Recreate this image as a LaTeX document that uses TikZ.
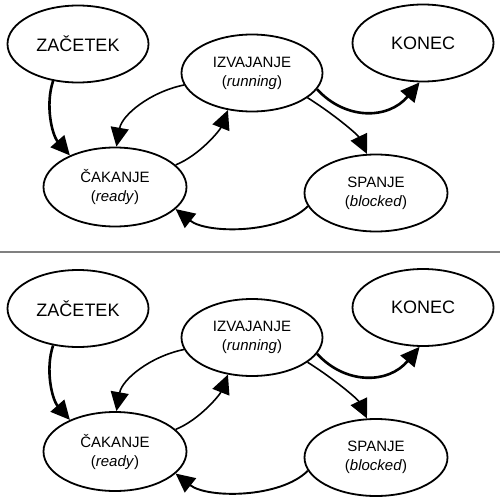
\documentclass[tikz,border=0pt]{standalone}
\usepackage{fontspec}
\setmainfont{Liberation Sans}
\usetikzlibrary{shapes.geometric,arrows.meta}
\tikzset{
  state/.style={ellipse,draw,fill=white,line width=1.8pt,minimum width=141pt,minimum height=77pt,inner sep=0pt,align=center,font=\fontsize{15}{19}\selectfont},
  bigstate/.style={state,font=\fontsize{18}{22}\selectfont},
  tip/.style={-{Triangle[length=19pt,width=18pt]}},
  thinedge/.style={tip,line width=1.6pt},
  midedge/.style={tip,line width=1.9pt},
  thickedge/.style={tip,line width=2.6pt},
  divider/.style={draw=gray,line width=1.8pt},
  diagram/.pic={
    \node[bigstate] (zac) at (78,44) {ZAČETEK};
    \node[state] (izv) at (252,73) {IZVAJANJE\\(\textit{running})};
    \node[bigstate] (kon) at (423,43) {KONEC};
    \node[state,minimum width=143pt,minimum height=79pt] (cak) at (115,187) {ČAKANJE\\(\textit{ready})};
    \node[state,minimum width=143pt] (spa) at (376,193) {SPANJE\\(\textit{blocked})};
    \draw[thickedge] (zac.236) .. controls (45,105) and (52,135) .. (cak.145);
    \draw[thinedge] (izv.190) .. controls (150,92) and (122,115) .. (cak.88);
    \draw[thinedge] (cak.20) .. controls (200,155) and (220,130) .. (izv.237);
    \draw[thickedge] (izv.-14) .. controls (345,120) and (388,120) .. (kon.265);
    \draw[thinedge] (izv.-24) .. controls (335,115) and (358,135) .. (spa.103);
    \draw[midedge] (spa.191) .. controls (280,234) and (207,234) .. (cak.-20);
  }
}
\begin{document}
\begin{tikzpicture}[x=1pt,y=-1pt]
  \fill[white] (0,0) rectangle (500,500);
  \useasboundingbox (0,0) rectangle (500,500);
  \pic (top) at (0,0) {diagram};
  \coordinate (dl) at (0,252);
  \coordinate (dr) at (500,252);
  \draw[divider] (dl) -- (dr);
  \pic (bot) at (0,264.5) {diagram};
\end{tikzpicture}
\end{document}
